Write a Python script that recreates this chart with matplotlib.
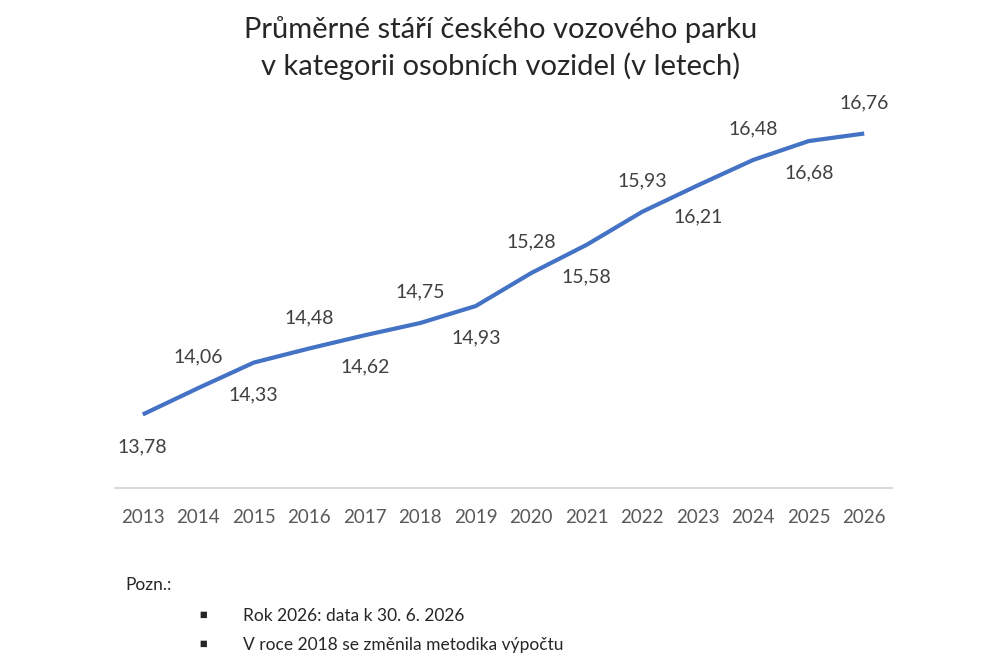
import matplotlib.pyplot as plt

plt.rcParams['font.family'] = ['Lato', 'DejaVu Sans']

years = ['2013', '2014', '2015', '2016', '2017', '2018', '2019',
         '2020', '2021', '2022', '2023', '2024', '2025', '2026']
age = [13.78, 14.06, 14.33, 14.48, 14.62, 14.75, 14.93,
       15.28, 15.58, 15.93, 16.21, 16.48, 16.68, 16.76]
title = 'Průměrné stáří českého vozového parku\nv kategorii osobních vozidel (v letech)'
notes = ['Rok 2026: data k 30. 6. 2026', 'V roce 2018 se změnila metodika výpočtu']

fig = plt.figure(figsize=(10.02, 6.68), dpi=100)
ax = fig.add_axes([0.1148, 0.2695, 0.7754, 0.5645])

x = list(range(len(years)))
ax.plot(x, age, color='#4472C4', linewidth=3, solid_capstyle='butt')

# labels alternate below / above the line
for i, v in enumerate(age):
    off = 31 if i % 2 == 1 else -32
    ax.annotate(f'{v:.2f}'.replace('.', ','), (i, v), xytext=(0, off),
                textcoords='offset pixels',
                ha='center', va='center', fontsize=14, color='#404040')

ax.set_xlim(-0.5, len(years) - 0.5)
ax.set_ylim(13, 17)
ax.set_xticks(x)
ax.set_xticklabels(years, fontsize=13.5, color='#595959')
ax.tick_params(axis='x', length=0, pad=15)
ax.set_yticks([])
for s in ['top', 'right', 'left']:
    ax.spines[s].set_visible(False)
ax.spines['bottom'].set_color('#D9D9D9')
ax.spines['bottom'].set_linewidth(1.5)

fig.text(0.5, 1 - 48 / 668, title, ha='center', va='center', fontsize=21,
         color='#262626', linespacing=1.4)

fig.text(0.125, 1 - 585 / 668, 'Pozn.:', ha='left', va='center', fontsize=12.5, color='#262626')
for k, n in enumerate(notes):
    yy = 1 - (616 + 29 * k) / 668
    fig.text(0.203, yy, '\u25aa', ha='center', va='center', fontsize=17, color='#262626')
    fig.text(0.2425, yy, n, ha='left', va='center', fontsize=12.5, color='#262626')

fig.savefig('out.png', dpi=100)
